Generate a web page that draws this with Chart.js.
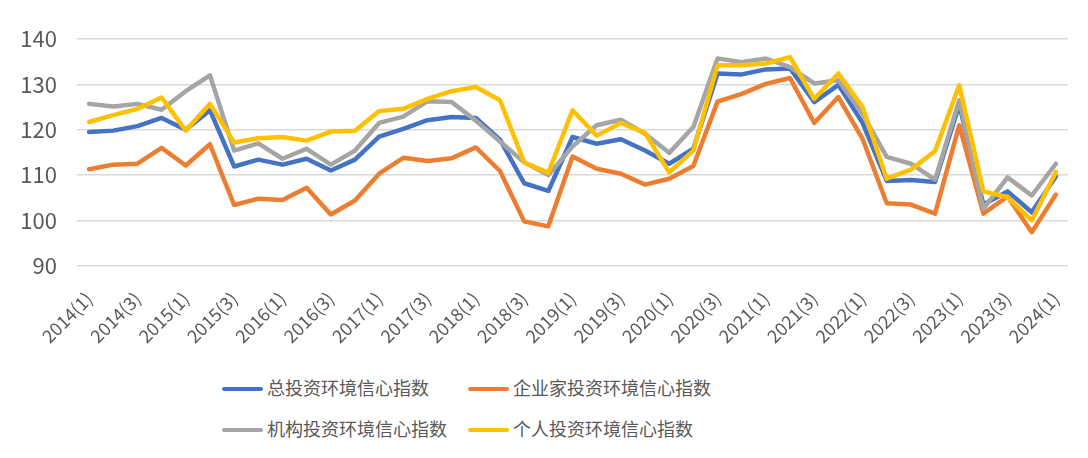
<!DOCTYPE html>
<html>
<head>
<meta charset="utf-8">
<script src="https://cdn.jsdelivr.net/npm/chart.js@4.4.0/dist/chart.umd.min.js"></script>
<style>
  html, body { margin: 0; padding: 0; background: #fff; }
  #wrap { position: relative; width: 1088px; height: 458px; }
  #box { position: absolute; left: 0; top: 0; width: 1088px; height: 361px; }
  .lg { position: absolute; font-family: "Noto Sans CJK SC", "Noto Sans", sans-serif; font-size: 18px; color: #595959; line-height: 20px; white-space: nowrap; }
  .lg i { display: inline-block; width: 41px; height: 4.5px; border-radius: 3px; vertical-align: middle; margin-right: 4px; position: relative; top: -1px; }
</style>
</head>
<body>
<div id="wrap">
  <div id="box"><canvas id="c"></canvas></div>
</div>
<script>
// ---- data ----
const years = [2014,2015,2016,2017,2018,2019,2020,2021,2022,2023,2024];
const categories = [];
years.forEach(y => { for (let q = 1; q <= 4; q++) { if (y === 2024 && q > 1) break; categories.push(y + '(' + q + ')'); } });

const seriesNames = ['总投资环境信心指数', '企业家投资环境信心指数', '机构投资环境信心指数', '个人投资环境信心指数'];

const totalIndex = [119.5,119.8,120.8,122.6,120.0,124.3,111.9,113.4,112.3,113.6,111.0,113.4,118.5,120.2,122.1,122.8,122.6,117.8,108.2,106.5,118.4,116.9,117.9,115.4,112.5,115.8,132.4,132.2,133.3,133.5,126.1,129.9,121.5,108.7,108.9,108.5,125.5,103.5,106.4,101.8,109.7];
const entrepreneurIndex = [111.3,112.3,112.5,116.0,112.1,116.8,103.4,104.8,104.5,107.2,101.3,104.4,110.3,113.8,113.1,113.7,116.1,110.9,99.8,98.7,114.1,111.4,110.3,107.9,109.2,112.0,126.2,127.9,130.1,131.4,121.5,127.2,118.0,103.8,103.5,101.5,121.0,101.5,105.3,97.4,105.7];
const institutionIndex = [125.7,125.1,125.7,124.4,128.5,132.0,115.4,117.0,113.6,115.8,112.3,115.4,121.5,122.9,126.3,126.1,122.0,117.4,112.8,110.0,116.3,121.0,122.2,119.1,114.9,120.6,135.7,134.9,135.7,133.8,130.2,130.9,123.5,114.0,112.5,109.0,126.5,102.6,109.5,105.5,112.5];
const individualIndex = [121.7,123.2,124.6,127.1,119.8,125.7,117.2,118.1,118.4,117.6,119.6,119.8,124.1,124.6,126.8,128.5,129.4,126.5,112.8,110.5,124.3,118.7,121.5,119.3,110.6,115.4,134.2,134.2,134.6,136.0,126.8,132.4,125.0,109.2,111.2,115.3,129.8,106.4,105.1,100.0,110.7];

const yMin = 90, yMax = 140, yStep = 10;

// ---- styles ----
const colors = ['#4472C4', '#ED7D31', '#A5A5A5', '#FFC000'];
const drawOrder = [3, 2, 1, 0]; // later series drawn on top
const seriesValues = [totalIndex, entrepreneurIndex, institutionIndex, individualIndex];

const datasets = seriesValues.map((vals, k) => ({
  label: seriesNames[k],
  data: vals,
  borderColor: colors[k],
  backgroundColor: colors[k],
  borderWidth: 4.5,
  pointRadius: 0,
  pointHoverRadius: 0,
  tension: 0,
  borderJoinStyle: 'round',
  borderCapStyle: 'round',
  fill: false,
  order: drawOrder[k]
}));

const fam = '"Noto Sans CJK SC", "Noto Sans", sans-serif';

new Chart(document.getElementById('c'), {
  type: 'line',
  data: { labels: categories, datasets },
  options: {
    responsive: true,
    maintainAspectRatio: false,
    animation: false,
    layout: { padding: { top: 39, left: 4, right: 20, bottom: 0 } },
    plugins: { legend: { display: false }, tooltip: { enabled: false } },
    scales: {
      x: {
        type: 'category',
        offset: true,
        grid: { display: false },
        border: { display: false },
        ticks: {
          autoSkip: false,
          maxRotation: 45,
          minRotation: 45,
          padding: 14,
          color: '#595959',
          font: { family: fam, size: 18 },
          callback: function (v, i) { return i % 2 === 0 ? categories[i] : ''; }
        }
      },
      y: {
        min: yMin,
        max: yMax,
        afterFit: function (s) { s.width = 73; },
        grid: { color: '#D9D9D9', lineWidth: 1.5, drawTicks: false },
        border: { display: false },
        ticks: { stepSize: yStep, padding: 20, color: '#595959', font: { family: fam, size: 22 } }
      }
    }
  }
});

// ---- legend (HTML, built from dataset names/colors) ----
const legendPos = [[222, 387], [468, 387], [222, 428], [468, 428]];
const wrap = document.getElementById('wrap');
seriesNames.forEach((name, k) => {
  const d = document.createElement('div');
  d.className = 'lg';
  d.style.left = legendPos[k][0] + 'px';
  d.style.top = (legendPos[k][1] - 10) + 'px';
  const sw = document.createElement('i');
  sw.style.background = colors[k];
  d.appendChild(sw);
  d.appendChild(document.createTextNode(name));
  wrap.appendChild(d);
});
</script>
</body>
</html>
